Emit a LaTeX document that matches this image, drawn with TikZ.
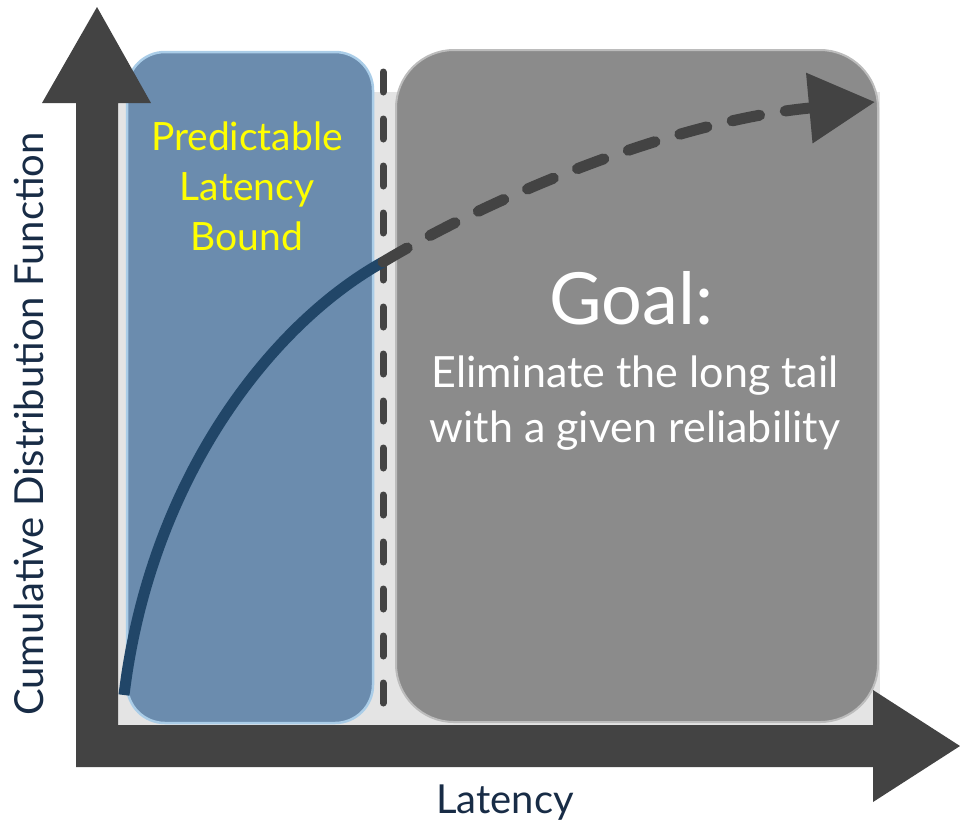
\documentclass[tikz,border=0pt]{standalone}
\usepackage{fontspec}
\setmainfont{Lato}
\usepackage{tikz}
\usetikzlibrary{arrows.meta}
\definecolor{axis}{RGB}{67,67,67}
\definecolor{navy}{RGB}{24,44,70}
\definecolor{boundfill}{RGB}{107,140,174}
\definecolor{boundrim}{RGB}{170,205,232}
\definecolor{goalfill}{RGB}{139,139,139}
\definecolor{goalrim}{RGB}{188,188,188}
\definecolor{cdf}{RGB}{33,70,104}
\definecolor{backdrop}{RGB}{228,228,228}
\definecolor{marker}{RGB}{255,255,0}

\begin{document}
\begin{tikzpicture}[x=1pt,y=-1pt]
 \useasboundingbox (0,0) rectangle (960,823);
 \fill[backdrop] (118,92) rectangle (880,725);
 \draw[boundrim,line width=2.5pt,fill=boundfill,rounded corners=38pt] (127,52) rectangle (373,723);
 \draw[goalrim,line width=2pt,fill=goalfill,rounded corners=58pt] (396,50) rectangle (878,722);
 \fill[axis] (76,767) -- (76,103) -- (42,103) -- (97,7) -- (151,103) -- (118,103)
   -- (118,725) -- (873,725) -- (873,690) -- (960,746) -- (873,802) -- (873,767) -- cycle;
 \coordinate (top) at (383,72);
 \coordinate (bottom) at (383,716);
 \draw[axis,line width=7pt,line cap=round,dash pattern=on 20pt off 27pt] (top) -- (bottom);
 \coordinate (start) at (124,695);
 \coordinate (bound) at (383,262);
 \coordinate (tail) at (875,102);
 \draw[cdf,line width=11pt] (start) .. controls (150,480) and (270,325) .. (bound);
 \draw[axis,line width=11pt,line cap=round,dash pattern=on 28pt off 26pt,
   -{Triangle[length=66pt,width=68pt]}] (bound) .. controls (500,192) and (680,120) .. (tail);
 \node[marker,font=\fontsize{39}{50}\selectfont,align=center,anchor=base] (boundlabel) at (247,250) {Predictable\\Latency\\Bound};
 \node[white,font=\fontsize{72}{72}\selectfont,anchor=base] (goaltitle) at (631,324) {Goal:};
 \node[white,font=\fontsize{43}{55}\selectfont,align=center,anchor=base] (goaltext) at (635,442) {Eliminate the long tail\\with a given reliability};
 \node[navy,font=\fontsize{40}{40}\selectfont,anchor=base] (xlabel) at (505,813) {Latency};
 \node[navy,font=\fontsize{40}{40}\selectfont,anchor=base,rotate=90] (ylabel) at (43,424) {Cumulative Distribution Function};
\end{tikzpicture}
\end{document}
